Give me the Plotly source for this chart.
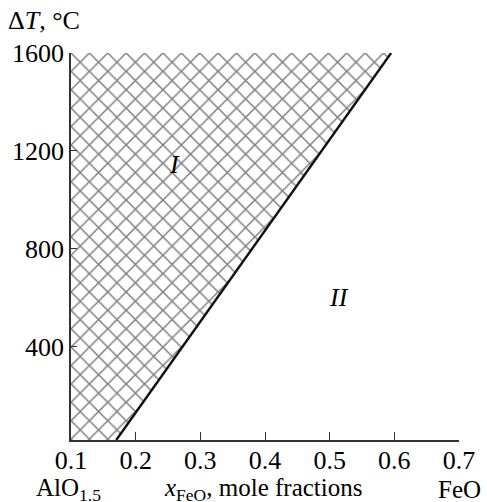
import plotly.graph_objects as go

# Data
x_ticks = [0.1, 0.2, 0.3, 0.4, 0.5, 0.6, 0.7]
y_ticks = [400, 800, 1200, 1600]
boundary_x = [0.17, 0.595]      # x_FeO on the boundary line
boundary_y = [20, 1600]         # ΔT on the boundary line
region_x_left = 0.1
region_labels = ["I", "II"]
region_label_x = [0.26, 0.515]
region_label_y = [1145, 600]

FONT = "Liberation Serif"
FS = 26

fig = go.Figure()

# hatched region I
poly_x = [region_x_left, boundary_x[0], boundary_x[1], region_x_left, region_x_left]
poly_y = [boundary_y[0], boundary_y[0], boundary_y[1], boundary_y[1], boundary_y[0]]
fig.add_trace(go.Scatter(
    x=poly_x, y=poly_y, mode="lines", fill="toself",
    line=dict(width=0, color="rgba(0,0,0,0)"),
    fillcolor="white",
    fillpattern=dict(shape="x", fgcolor="#000", bgcolor="white", size=13, solidity=0.22),
    hoverinfo="skip", showlegend=False))

# boundary line
fig.add_trace(go.Scatter(
    x=boundary_x, y=boundary_y, mode="lines",
    line=dict(color="#111", width=2.4), showlegend=False))

for t, xx, yy in zip(region_labels, region_label_x, region_label_y):
    fig.add_annotation(x=xx, y=yy, text=f"<i>{t}</i>", showarrow=False,
                       font=dict(family=FONT, size=26, color="black"))

W, H = 487, 502
L, R, T, B = 71, 25, 53, 62
pw, ph = W - L - R, H - T - B

def px(xp):
    return (xp - L) / pw

def py(yp):
    return (H - B - yp) / ph

fig.add_annotation(xref="paper", yref="paper", x=px(6), y=py(20),
                   xanchor="left", yanchor="middle", showarrow=False,
                   text="Δ<i>T</i>, °C", font=dict(family=FONT, size=FS, color="black"))
fig.add_annotation(xref="paper", yref="paper", x=px(68), y=py(489),
                   xanchor="center", yanchor="middle", showarrow=False,
                   text="AlO<sub>1.5</sub>", font=dict(family=FONT, size=25, color="black"))
fig.add_annotation(xref="paper", yref="paper", x=px(264), y=py(489),
                   xanchor="center", yanchor="middle", showarrow=False,
                   text="<i>x</i><sub>FeO</sub>, mole fractions", font=dict(family=FONT, size=25, color="black"))
fig.add_annotation(xref="paper", yref="paper", x=px(462), y=py(489),
                   xanchor="center", yanchor="middle", showarrow=False,
                   text="FeO", font=dict(family=FONT, size=25, color="black"))

fig.update_xaxes(range=[0.1, 0.7], tickvals=x_ticks, ticktext=[f"{v:.1f}" for v in x_ticks],
                 ticks="inside", ticklen=8, tickwidth=1.3, tickcolor="#333",
                 showline=True, linecolor="#333", linewidth=1.6, showgrid=False, zeroline=False,
                 ticklabelstandoff=-4,
                 tickfont=dict(family=FONT, size=FS, color="black"))
fig.update_yaxes(range=[20, 1600], tickvals=y_ticks, ticktext=[str(v) for v in y_ticks],
                 ticks="inside", ticklen=6, tickwidth=1.3, tickcolor="#333",
                 showline=True, linecolor="#333", linewidth=1.6, showgrid=False, zeroline=False,
                 tickfont=dict(family=FONT, size=FS, color="black"))

fig.update_layout(width=W, height=H, margin=dict(l=L, r=R, t=T, b=B),
                  plot_bgcolor="white", paper_bgcolor="white", showlegend=False)

fig.write_html("out.html", config={"displayModeBar": False},
               post_script="document.body.style.margin='0';")
